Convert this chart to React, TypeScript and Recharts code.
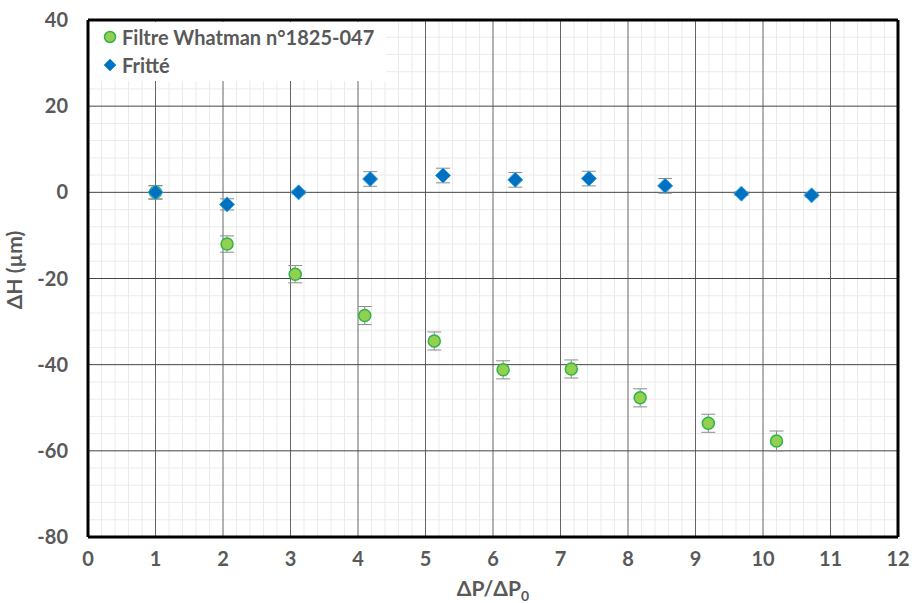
import React from "react";
import {
  ScatterChart,
  Scatter,
  XAxis,
  YAxis,
  ErrorBar,
  ReferenceLine,
  Legend,
  Label,
} from "recharts";

// Filtre Whatman n°1825-047
const xFiltre = [1.0, 2.06, 3.07, 4.1, 5.13, 6.15, 7.16, 8.18, 9.19, 10.2];
const yFiltre = [0, -12.0, -19.0, -28.6, -34.5, -41.2, -41.0, -47.7, -53.6, -57.7];
const errFiltre = [1.5, 1.9, 2.0, 2.1, 2.1, 2.1, 2.1, 2.1, 2.1, 2.3];

// Fritté
const xFritte = [1.0, 2.06, 3.12, 4.18, 5.26, 6.33, 7.42, 8.55, 9.68, 10.72];
const yFritte = [0, -2.8, 0, 3.1, 3.9, 2.9, 3.2, 1.5, -0.3, -0.7];
const errFritte = [1.6, 1.3, 0.4, 1.7, 1.7, 1.7, 1.7, 1.7, 0.4, 0.4];

const xTicks = [0, 1, 2, 3, 4, 5, 6, 7, 8, 9, 10, 11, 12];
const yTicks = [-80, -60, -40, -20, 0, 20, 40];

const FONT = "Lato, 'Open Sans', sans-serif";
const GREY = "#595959";

const filtreData = xFiltre.map((x, i) => ({ x, y: yFiltre[i], err: errFiltre[i] }));
const fritteData = xFritte.map((x, i) => ({ x, y: yFritte[i], err: errFritte[i] }));

// minor grid: 0.2 on x, 4 on y
const minorX: number[] = [];
for (let i = 1; i < 60; i++) if (i % 5 !== 0) minorX.push(i / 5);
const minorY: number[] = [];
for (let v = -76; v < 40; v += 4) if (v % 20 !== 0) minorY.push(v);

const GreenDot = (props: any) => (
  <circle cx={props.cx} cy={props.cy} r={6} fill="#92d050" stroke="#2fb34a" strokeWidth={1.5} />
);

const BlueDiamond = (props: any) => {
  const { cx, cy } = props;
  const r = 7.5;
  return (
    <path
      d={`M${cx},${cy - r} L${cx + r},${cy} L${cx},${cy + r} L${cx - r},${cy} Z`}
      fill="#0070c0"
      stroke="#2ea3e8"
      strokeWidth={1}
    />
  );
};

const LegendBox = () => (
  <div
    style={{
      background: "#fff",
      width: 296,
      height: 59,
      fontFamily: FONT,
      fontWeight: 700,
      fontSize: 20,
      color: GREY,
    }}
  >
    <div style={{ display: "flex", alignItems: "center", height: 29, paddingLeft: 13 }}>
      <svg width={14} height={14} style={{ marginRight: 5 }}>
        <circle cx={7} cy={7} r={5.5} fill="#92d050" stroke="#2fb34a" strokeWidth={1.5} />
      </svg>
      Filtre Whatman n°1825-047
    </div>
    <div style={{ display: "flex", alignItems: "center", height: 28, paddingLeft: 13 }}>
      <svg width={14} height={14} style={{ marginRight: 5 }}>
        <path d="M7,1 L13,7 L7,13 L1,7 Z" fill="#0070c0" stroke="#2ea3e8" strokeWidth={1} />
      </svg>
      Fritté
    </div>
  </div>
);

export default function App() {
  return (
    <div style={{ position: "absolute", left: 0, top: 0, background: "#fff" }}>
      <ScatterChart
        width={912}
        height={603}
        margin={{ top: 20, right: 14, left: 28, bottom: 26 }}
      >
        <XAxis
          type="number"
          dataKey="x"
          domain={[0, 12]}
          ticks={xTicks}
          allowDataOverflow
          axisLine={false}
          tickLine={false}
          tickSize={0}
          tickMargin={15}
          height={40}
          tick={{ fill: GREY, fontSize: 20, fontWeight: 700, fontFamily: FONT }}
        >
          <Label
            content={(p: any) => {
              const vb = p.viewBox;
              return (
                <text
                  x={vb.x + vb.width / 2}
                  y={vb.y + 59}
                  textAnchor="middle"
                  fill={GREY}
                  fontSize={21}
                  fontWeight={700}
                  fontFamily={FONT}
                >
                  ΔP/ΔP
                  <tspan fontSize={14} dy={5}>
                    0
                  </tspan>
                </text>
              );
            }}
          />
        </XAxis>
        <YAxis
          type="number"
          dataKey="y"
          domain={[-80, 40]}
          ticks={yTicks}
          allowDataOverflow
          axisLine={false}
          tickLine={false}
          tickSize={0}
          tickMargin={20}
          width={60}
          tick={{ fill: GREY, fontSize: 20, fontWeight: 700, fontFamily: FONT }}
        >
          <Label
            content={() => (
              <text
                x={0}
                y={0}
                transform="translate(22, 270) rotate(-90)"
                textAnchor="middle"
                fill={GREY}
                fontSize={21}
                fontWeight={700}
                fontFamily={FONT}
              >
                ΔH (µm)
              </text>
            )}
          />
        </YAxis>

        {minorX.map((v) => (
          <ReferenceLine key={"mx" + v} x={v} stroke="#ebebeb" strokeWidth={1} />
        ))}
        {minorY.map((v) => (
          <ReferenceLine key={"my" + v} y={v} stroke="#ebebeb" strokeWidth={1} />
        ))}
        {xTicks.slice(1, -1).map((v) => (
          <ReferenceLine key={"Mx" + v} x={v} stroke="#666" strokeWidth={1} />
        ))}
        {yTicks.slice(1, -1).map((v) => (
          <ReferenceLine key={"My" + v} y={v} stroke="#444" strokeWidth={1} />
        ))}
        <ReferenceLine x={0} stroke="#000" strokeWidth={3} />
        <ReferenceLine x={12} stroke="#000" strokeWidth={3} />
        <ReferenceLine y={40} stroke="#000" strokeWidth={3} />
        <ReferenceLine y={-80} stroke="#000" strokeWidth={3} />

        <Scatter
          name="Filtre Whatman n°1825-047"
          data={filtreData}
          shape={GreenDot}
          isAnimationActive={false}
        >
          <ErrorBar dataKey="err" direction="y" width={7} stroke="#8c8c8c" strokeWidth={1} />
        </Scatter>
        <Scatter name="Fritté" data={fritteData} shape={BlueDiamond} isAnimationActive={false}>
          <ErrorBar dataKey="err" direction="y" width={7} stroke="#8c8c8c" strokeWidth={1} />
        </Scatter>

        <Legend
          layout="horizontal"
          verticalAlign="middle"
          align="center"
          content={LegendBox}
          wrapperStyle={{ position: "absolute", left: 90, top: 22, width: 296 }}
        />
      </ScatterChart>
    </div>
  );
}
